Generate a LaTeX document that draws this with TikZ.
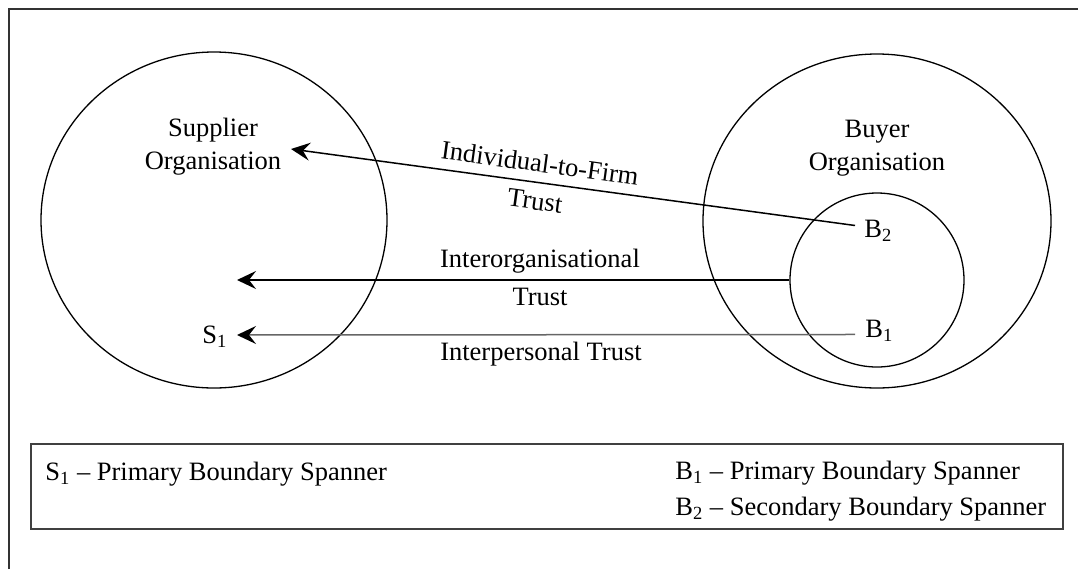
\documentclass[tikz,border=0pt]{standalone}
\usepackage{fontspec}
\setmainfont{Liberation Serif}
\usetikzlibrary{arrows.meta,shapes.geometric}
\begin{document}
\begin{tikzpicture}[x=0.5pt,y=-0.5pt,
  every node/.style={font=\fontsize{13.25}{16.5}\selectfont, inner sep=0pt},
  org/.style={draw, ellipse, line width=0.65pt},
  unit/.style={draw, circle, line width=0.65pt},
  trust/.style={-{Stealth[length=9.5pt,width=9pt,inset=3.5pt,black]}, line width=0.75pt},
  legendbox/.style={draw=black!75, line width=0.75pt, anchor=north west},
]
\useasboundingbox (0,0) rectangle (1078,569);
% frame
\draw[line width=0.6pt, black!80] (9,569) -- (9,9) -- (1078,9);

% organisations
\node[org, minimum width=173pt, minimum height=168pt] (supplier) at (214,220) {};
\node[org, minimum width=174pt, minimum height=167pt] (buyer) at (877,221) {};
\node[unit, minimum size=87pt] (spanners) at (877,280) {};

\node[align=center] (suppliertxt) at (213,147) {Supplier\\Organisation};
\node[align=center] (buyertxt) at (877,148) {Buyer\\Organisation};

% boundary spanners
\node[anchor=base west] (b2) at (864,237) {B\textsubscript{2}};
\node[anchor=base west] (b1) at (865,337) {B\textsubscript{1}};
\node[anchor=base west] (s1) at (202,343) {S\textsubscript{1}};

\coordinate (firmtip) at (291,149);
\coordinate (orgtip) at (237,280);
\coordinate (s1tip) at (237,335);

% trust relations
\draw[trust] ([xshift=-4.5pt,yshift=2.5pt]b2.west) -- (firmtip);
\node[rotate=-7.8] (firmlbl) at (540,163) {Individual-to-Firm};
\node[rotate=-7.8] (firmlbl2) at (535,201) {Trust};

\draw[trust] (spanners.west) -- (orgtip);
\node[anchor=base] (orglbl) at (540,267) {Interorganisational};
\node[anchor=base] (orglbl2) at (540,305) {Trust};

\draw[trust, draw=black!60] ([xshift=-5pt,yshift=-2pt]b1.west) -- (s1tip);
\node[anchor=base] (perslbl) at (541,360) {Interpersonal Trust};

% legend
\node[legendbox, minimum width=516pt, minimum height=42.5pt] (legend) at (30,443) {};
\node[anchor=base west] (legs1) at (45,480) {S\textsubscript{1} -- Primary Boundary Spanner};
\node[anchor=base west] (legb1) at (675,479) {B\textsubscript{1} -- Primary Boundary Spanner};
\node[anchor=base west] (legb2) at (675,515) {B\textsubscript{2} -- Secondary Boundary Spanner};
\end{tikzpicture}
\end{document}
